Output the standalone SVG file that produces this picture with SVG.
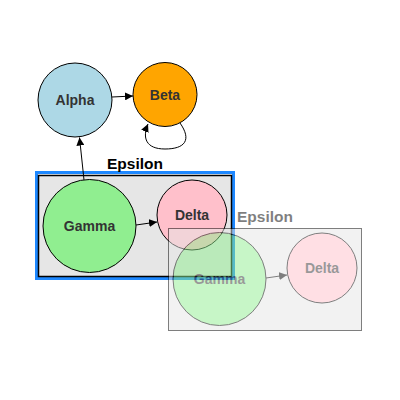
<svg xmlns="http://www.w3.org/2000/svg" width="400" height="400" viewBox="0 0 400 400">
<defs>
<marker id="arr" viewBox="0 0 10 10" refX="10" refY="5" markerWidth="8" markerHeight="8" markerUnits="userSpaceOnUse" orient="auto">
<path d="M0,0 L10,5 L0,10 Z" fill="#000"/>
</marker>
</defs>
<style>
.node{stroke:#000;stroke-width:1}
.lbl{font-family:"Liberation Sans",Arial,sans-serif;font-weight:bold;font-size:14px;fill:#333;text-anchor:middle;dominant-baseline:central}
.grp{font-family:"Liberation Sans",Arial,sans-serif;font-weight:bold;font-size:15.5px;fill:#000;text-anchor:middle}
.edge{fill:none;stroke:#000;stroke-width:1;marker-end:url(#arr)}
</style>
<rect width="400" height="400" fill="#fff"/>
<g id="group-epsilon">
<rect x="36.5" y="172.5" width="197" height="106" fill="none" stroke="#1e88ff" stroke-width="3"/>
<rect x="38.5" y="175.5" width="193" height="101" fill="#e6e6e6" stroke="#000" stroke-width="1.5"/>
<text class="grp" x="135" y="169">Epsilon</text>
</g>
<g id="connectors">
<path class="edge" d="M112,97 L133,96"/>
<path class="edge" d="M180,123 C192,140 185,149 165,149 C146,149 142,138 148,124"/>
<path class="edge" d="M84,180 L79.5,137.5"/>
<path class="edge" d="M136,225 L157,222"/>
</g>
<g id="node-alpha"><circle class="node" cx="75" cy="100" r="37" fill="#add8e6"/><text class="lbl" x="75" y="100">Alpha</text></g>
<g id="node-beta"><circle class="node" cx="165" cy="94.5" r="32" fill="#ffa500"/><text class="lbl" x="165" y="94.5">Beta</text></g>
<g id="node-gamma"><circle class="node" cx="89.5" cy="226" r="46.5" fill="#90ee90"/><text class="lbl" x="89.5" y="226">Gamma</text></g>
<g id="node-delta"><circle class="node" cx="192" cy="215" r="35" fill="#ffc0cb"/><text class="lbl" x="192" y="215">Delta</text></g>
<g id="ghost" opacity="0.5">
<rect x="168.5" y="228.5" width="193" height="102" fill="#e6e6e6" stroke="#000" stroke-width="1"/>
<text class="grp" x="265" y="222">Epsilon</text>
<path class="edge" d="M266,278 L287,275"/>
<g id="ghost-gamma"><circle class="node" cx="219.5" cy="279" r="46.5" fill="#90ee90"/><text class="lbl" x="219.5" y="279">Gamma</text></g>
<g id="ghost-delta"><circle class="node" cx="322" cy="268" r="35" fill="#ffc0cb"/><text class="lbl" x="322" y="268">Delta</text></g>
</g>
</svg>
